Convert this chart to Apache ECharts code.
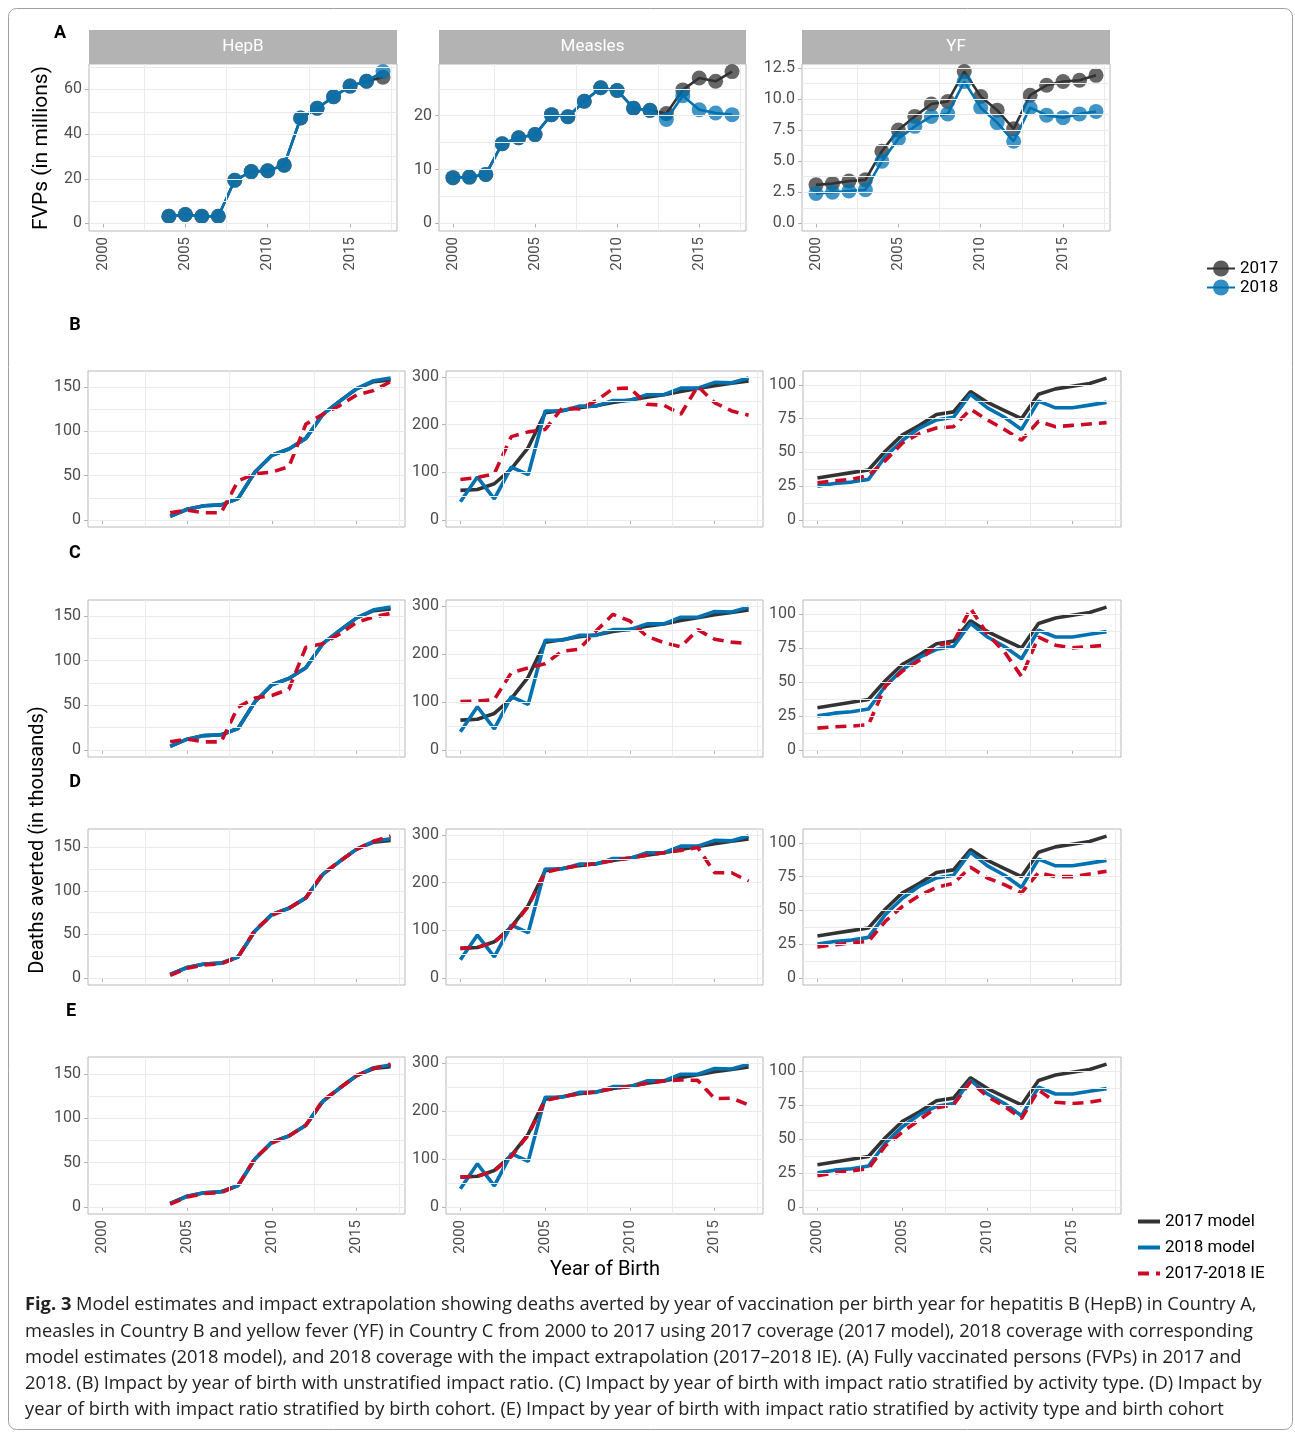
<!DOCTYPE html>
<html><head><meta charset="utf-8">
<script src="https://cdn.jsdelivr.net/npm/echarts@6/dist/echarts.min.js"></script>
<style>html,body{margin:0;padding:0;background:#fff}#c{width:1295px;height:1433px}</style>
</head><body><div id="c"></div>
<script>
// ---------------- DATA ----------------
const years = [2000,2001,2002,2003,2004,2005,2006,2007,2008,2009,2010,2011,2012,2013,2014,2015,2016,2017];
const hepbYears = [2004,2005,2006,2007,2008,2009,2010,2011,2012,2013,2014,2015,2016,2017];
const xTicks = [2000,2005,2010,2015];

// (A) FVPs in millions
const fvpHepB2017 = [3.2,4.0,3.2,3.2,19.3,23.2,23.6,26.1,47.2,51.6,56.7,61.5,63.7,65.5];
const fvpHepB2018 = [3.2,4.0,3.2,3.2,19.3,23.2,23.6,26.1,47.2,51.6,56.7,61.5,63.7,68.0];
const fvpMeasles2017 = [8.5,8.6,9.1,14.8,15.9,16.5,20.2,19.8,22.7,25.2,24.7,21.4,21.0,20.4,24.8,27.0,26.4,28.2];
const fvpMeasles2018 = [8.5,8.6,9.1,14.8,15.9,16.5,20.2,19.8,22.7,25.2,24.7,21.4,21.0,19.3,23.7,21.1,20.5,20.2];
const fvpYF2017 = [3.1,3.2,3.4,3.5,5.8,7.5,8.6,9.6,9.8,12.2,10.2,9.1,7.6,10.3,11.1,11.4,11.5,11.9];
const fvpYF2018 = [2.4,2.5,2.6,2.7,5.0,6.8,7.8,8.6,8.8,11.4,9.3,8.1,6.6,9.3,8.7,8.5,8.8,9.0];

// (B-E) deaths averted in thousands
const hepbModel2017 = [4,12,16,17,24,54,73,80,92,119,134,148,156,158];
const hepbModel2018 = [4,12,16,17,24,54,73,80,92,119,134,148,157,160];
const hepbIE_B = [8,11,8,8,44,52,54,60,108,119,129,141,146,156];
const hepbIE_C = [9,12,9,9,48,58,61,68,115,119,130,143,149,153];
const hepbIE_D = [3,11,15,16,24,55,72,80,92,120,134,148,157,163];
const hepbIE_E = [3,11,15,16,24,55,72,80,92,120,134,148,156,161];

const measlesModel2017 = [62,64,76,107,152,225,230,236,240,247,252,258,263,270,276,282,287,292];
const measlesModel2018 = [38,90,44,111,95,229,229,239,239,251,251,263,263,277,277,289,288,298];
const measlesIE_B = [85,89,97,175,185,190,235,233,250,276,277,243,241,222,281,246,229,220];
const measlesIE_C = [101,102,105,161,171,180,206,210,248,283,269,237,224,215,251,231,225,222];
const measlesIE_D = [62,64,75,105,150,222,230,236,240,247,252,258,263,268,274,221,221,203];
const measlesIE_E = [62,64,75,105,150,222,230,236,240,247,252,258,263,265,264,226,227,213];

const yfModel2017 = [31,33,35,37,51,63,70,78,80,95,87,81,75,93,97,99,101,105];
const yfModel2018 = [25,27,28,30,47,59,68,74,76,93,83,76,67,88,83,83,85,87];
const yfIE_B = [27.5,29,30,33,44,57,64,68,69,82,74,67,59,73,69,70,71,72];
const yfIE_C = [16,17,17.5,18.5,47,58,66,77,79,104,85,72,54,83,77,75,76,77];
const yfIE_D = [23,24.5,26,27,42,53,61,67,70,82,74,69,63,78,75,75,77,79];
const yfIE_E = [23,25,26.5,28,45,55,64,73,75,92,81,74,65,86,77,76,77,79];

// tick labels
const yTicksA = { hepb:[0,20,40,60], measles:[0,10,20], yf:[0,2.5,5,7.5,10,12.5] };
const yTicksB = { hepb:[0,50,100,150], measles:[0,100,200,300], yf:[0,25,50,75,100] };
const stripLabels = ['HepB','Measles','YF'];
const rowLetters = ['A','B','C','D','E'];
const legendA = ['2017','2018'];
const legendB = ['2017 model','2018 model','2017-2018 IE'];

// ---------------- LAYOUT / STYLE ----------------
const FONT = 'Roboto, "Liberation Sans", sans-serif';
const C17 = '#333333', C18 = '#0072B2', CIE = '#CC0A25';
const colA = [[89,308],[439,307],[802,308]];
const rowA = [64,167];
const colB = [[88,317],[446,317],[803,318]];
const rowsB = [[371,156],[600,157],[829,156],[1057,157]];
const xMin = 1999.15, xMax = 2017.85;
const vGrid = [2002.5,2007.5,2012.5,2017.5];

function pairs(xs, ys){ return xs.map((x,i)=>[x, ys[i]]); }
function yRange(arrs){
  let lo = 0, hi = -Infinity;
  arrs.forEach(a=>a.forEach(v=>{ if(v<lo) lo=v; if(v>hi) hi=v; }));
  const p = (hi-lo)*0.05; return [lo-p, hi+p];
}
function minors(ticks, lo, hi){
  const step = ticks[1]-ticks[0], out=[];
  for(let v=ticks[0]-step/2; v<=hi; v+=step){ if(v>=lo) out.push(v); }
  return out;
}

const grid=[], xAxis=[], yAxis=[], series=[];
function addPanel(g, yt, lines, showXLabels, fmt, isA){
  const idx = grid.length;
  grid.push({left:g[0], top:g[1], width:g[2], height:g[3], show:true, borderColor:'#B8B8B8', borderWidth:1, backgroundColor:'#fff', containLabel:false});
  const rng = yRange(lines.map(l=>l.y));
  xAxis.push({type:'value', gridIndex:idx, min:xMin, max:xMax,
    axisLine:{show:false}, splitLine:{show:false},
    axisTick:{show:true, customValues:xTicks, length:4, lineStyle:{color:'#B3B3B3'}},
    axisLabel:{show:showXLabels, customValues:xTicks, rotate:90, fontSize:15, color:'#4D4D4D', fontFamily:FONT, margin:6, formatter:v=>String(v)}});
  yAxis.push({type:'value', gridIndex:idx, min:rng[0], max:rng[1],
    axisLine:{show:false}, splitLine:{show:false},
    axisTick:{show:true, customValues:yt, length:4, lineStyle:{color:'#B3B3B3'}},
    axisLabel:{customValues:yt, fontSize:16, color:'#4D4D4D', fontFamily:FONT, margin:7, formatter:fmt}});
  const gl = [];
  vGrid.forEach(v=>gl.push({xAxis:v}));
  yt.forEach(v=>gl.push({yAxis:v}));
  minors(yt, rng[0], rng[1]).forEach(v=>gl.push({yAxis:v}));
  series.push({type:'line', xAxisIndex:idx, yAxisIndex:idx, data:[], z:1, silent:true,
    markLine:{silent:true, symbol:['none','none'], label:{show:false}, animation:false,
      lineStyle:{color:'#EBEBEB', width:1, type:'solid'}, emphasis:{disabled:true}, data:gl}});
  lines.forEach((l,k)=>{
    const s = {type:'line', name:l.name, xAxisIndex:idx, yAxisIndex:idx, data:pairs(l.x,l.y), z:2+k,
      lineStyle:{color:l.color, width:isA?2.6:3.6, type:l.dash?[11,7]:'solid'}, itemStyle:{color:l.color},
      emphasis:{disabled:true}};
    if(isA){ s.symbol='circle'; s.symbolSize=15; s.itemStyle={color:l.color, opacity:0.75}; }
    else { s.symbol='none'; s.showSymbol=false; }
    series.push(s);
  });
}

// Row A
const aData = [
  [hepbYears, fvpHepB2017, fvpHepB2018, yTicksA.hepb],
  [years, fvpMeasles2017, fvpMeasles2018, yTicksA.measles],
  [years, fvpYF2017, fvpYF2018, yTicksA.yf]
];
aData.forEach((d,c)=>{
  addPanel([colA[c][0], rowA[0], colA[c][1], rowA[1]], d[3],
    [{name:legendA[0], x:d[0], y:d[1], color:C17},{name:legendA[1], x:d[0], y:d[2], color:C18}],
    true, c===2 ? (v=>v.toFixed(1)) : (v=>String(v)), true);
});
// Rows B-E
const ieRows = [
  [hepbIE_B, measlesIE_B, yfIE_B],
  [hepbIE_C, measlesIE_C, yfIE_C],
  [hepbIE_D, measlesIE_D, yfIE_D],
  [hepbIE_E, measlesIE_E, yfIE_E]
];
const models = [
  [hepbYears, hepbModel2017, hepbModel2018, yTicksB.hepb],
  [years, measlesModel2017, measlesModel2018, yTicksB.measles],
  [years, yfModel2017, yfModel2018, yTicksB.yf]
];
ieRows.forEach((row,r)=>{
  models.forEach((m,c)=>{
    addPanel([colB[c][0], rowsB[r][0], colB[c][1], rowsB[r][1]], m[3],
      [{name:legendB[0], x:m[0], y:m[1], color:C17},
       {name:legendB[1], x:m[0], y:m[2], color:C18},
       {name:legendB[2], x:m[0], y:row[c], color:CIE, dash:true}],
      r===3, v=>String(v), false);
  });
});

// graphics
const graphic = [];
graphic.push({type:'rect', shape:{x:8.5,y:8.5,width:1284,height:1421,r:8}, style:{fill:'none', stroke:'#A0A0A0', lineWidth:1}, z:-1});
colA.forEach((c,i)=>{
  graphic.push({type:'rect', shape:{x:c[0], y:30, width:c[1], height:34}, style:{fill:'#B3B3B3'}});
  graphic.push({type:'text', x:c[0]+c[1]/2, y:47, style:{text:stripLabels[i], fill:'#fff', fontSize:17, fontFamily:FONT, align:'center', verticalAlign:'middle'}});
});
const letterPos = [[60,33],[75,325],[75,553],[75,782],[71,1011]];
letterPos.forEach((p,i)=>graphic.push({type:'text', x:p[0], y:p[1], style:{text:rowLetters[i], fill:'#000', fontSize:18, fontWeight:'bold', fontFamily:FONT, align:'center', verticalAlign:'middle'}}));
graphic.push({type:'text', x:42, y:148, rotation:Math.PI/2, style:{text:'FVPs (in millions)', fill:'#000', fontSize:21, fontFamily:FONT, align:'center', verticalAlign:'middle'}});
graphic.push({type:'text', x:38, y:840, rotation:Math.PI/2, style:{text:'Deaths averted (in thousands)', fill:'#000', fontSize:20, fontFamily:FONT, align:'center', verticalAlign:'middle'}});
graphic.push({type:'text', x:605, y:1270, style:{text:'Year of Birth', fill:'#000', fontSize:20, fontFamily:FONT, align:'center', verticalAlign:'middle'}});

const CAPFONT = '"Open Sans", "Noto Sans", sans-serif';
const caption = [
  '{b|Fig. 3} Model estimates and impact extrapolation showing deaths averted by year of vaccination per birth year for hepatitis B (HepB) in Country A,',
  'measles in Country B and yellow fever (YF) in Country C from 2000 to 2017 using 2017 coverage (2017 model), 2018 coverage with corresponding',
  'model estimates (2018 model), and 2018 coverage with the impact extrapolation (2017\u20132018 IE). (A) Fully vaccinated persons (FVPs) in 2017 and',
  '2018. (B) Impact by year of birth with unstratified impact ratio. (C) Impact by year of birth with impact ratio stratified by activity type. (D) Impact by',
  'year of birth with impact ratio stratified by birth cohort. (E) Impact by year of birth with impact ratio stratified by activity type and birth cohort'
];
caption.forEach((t,i)=>graphic.push({type:'text', x:25, y:1305+i*26.3, style:{text:t, fill:'#222', fontSize:18.3, fontFamily:CAPFONT, align:'left', verticalAlign:'middle',
  rich:{b:{fontWeight:'bold', fontSize:18.3, fontFamily:CAPFONT, fill:'#222'}}}}));

const chart = echarts.init(document.getElementById('c'), null, {renderer:'canvas'});
chart.setOption({
  animation:false,
  backgroundColor:'#fff',
  grid, xAxis, yAxis, series, graphic,
  legend:[
    {data:legendA, orient:'vertical', left:1201, top:255, itemWidth:28, itemHeight:20, itemGap:2,
     textStyle:{fontSize:17, color:'#000', fontFamily:FONT}, selectedMode:false, itemStyle:{opacity:0.8}},
    {data:legendB, orient:'vertical', left:1131, top:1208, itemWidth:22, itemHeight:12, itemGap:9,
     textStyle:{fontSize:17, color:'#000', fontFamily:FONT}, selectedMode:false, lineStyle:{width:4}, itemStyle:{opacity:0}}
  ]
});
</script></body></html>
